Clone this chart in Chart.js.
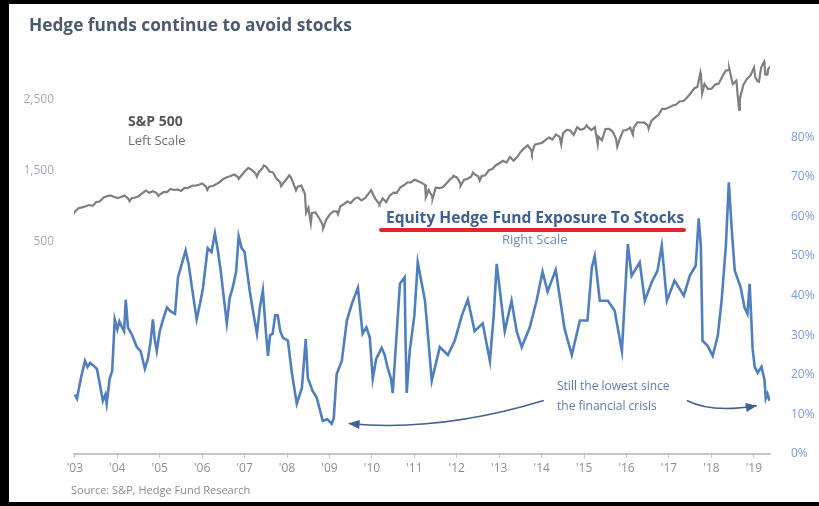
<!DOCTYPE html>
<html>
<head>
<meta charset="utf-8">
<script src="https://cdn.jsdelivr.net/npm/chart.js@4.4.0/dist/chart.umd.min.js"></script>
<style>
    html, body { margin: 0; padding: 0; background: #fff; }
    #wrap { position: relative; width: 819px; height: 506px; overflow: hidden; font-family: "Open Sans", sans-serif; }
    #chartHedge { position: absolute; left: 0; top: 0; }
    .txt { position: absolute; white-space: nowrap; line-height: 1; }
    #frame { position: absolute; left: 0; top: 0; right: 0; bottom: 0; border-left: 9px solid #000; border-top: 4px solid #000; border-bottom: 4px solid #000; pointer-events: none; }
</style>
</head>
<body>
<div id="wrap">
    <canvas id="chartHedge" width="819" height="506"></canvas>
    <div class="txt" style="left:29px;top:16px;font-size:17.3px;font-weight:700;color:#4b5a6e;">Hedge funds continue to avoid stocks</div>
    <div class="txt" style="left:128px;top:114px;font-size:14px;font-weight:700;color:#575757;">S&amp;P 500</div>
    <div class="txt" style="left:128px;top:134px;font-size:13px;color:#6e6e6e;">Left Scale</div>
    <div class="txt" style="left:386px;top:210px;font-size:15.6px;font-weight:700;color:#3d5f93;">Equity Hedge Fund Exposure To Stocks</div>
    <div style="position:absolute;left:379px;top:228px;width:307px;height:4px;border-radius:2px;background:#e8222b;"></div>
    <div class="txt" style="left:502px;top:233px;font-size:13px;color:#6a8bc6;">Right Scale</div>
    <div class="txt" style="left:557px;top:380px;font-size:12px;color:#5a7bb6;">Still the lowest since</div>
    <div class="txt" style="left:557px;top:400px;font-size:12px;color:#5a7bb6;">the financial crisis</div>
    <div class="txt" style="left:71px;top:484px;font-size:11px;color:#8c8c8c;">Source: S&amp;P, Hedge Fund Research</div>
    <div id="frame"></div>
</div>
<script>
// S&P 500 month-end closes, Jan 2003 .. Sep 2019
const spxMonthly = [
    855.7, 841.2, 848.2, 916.9, 963.6, 974.5, 990.3, 1008.0, 996.0, 1050.7, 1058.2, 1111.9,
    1131.1, 1144.9, 1126.2, 1107.3, 1120.7, 1140.8, 1101.7, 1104.2, 1114.6, 1130.2, 1173.8, 1211.9,
    1181.3, 1203.6, 1180.6, 1156.9, 1191.5, 1191.3, 1234.2, 1220.3, 1228.8, 1207.0, 1249.5, 1248.3,
    1280.1, 1280.7, 1294.9, 1310.6, 1270.1, 1270.2, 1276.7, 1303.8, 1335.9, 1377.9, 1400.6, 1418.3,
    1438.2, 1406.8, 1420.9, 1482.4, 1530.6, 1503.4, 1455.3, 1474.0, 1526.8, 1549.4, 1481.1, 1468.4,
    1378.6, 1330.6, 1322.7, 1385.6, 1400.4, 1280.0, 1267.4, 1282.8, 1166.4, 968.8, 896.2, 903.3,
    825.9, 735.1, 797.9, 872.8, 919.1, 919.3, 987.5, 1020.6, 1057.1, 1036.2, 1095.6, 1115.1,
    1073.9, 1104.5, 1169.4, 1186.7, 1089.4, 1030.7, 1101.6, 1049.3, 1141.2, 1183.3, 1180.6, 1257.6,
    1286.1, 1327.2, 1325.8, 1363.6, 1345.2, 1320.6, 1292.3, 1218.9, 1131.4, 1253.3, 1247.0, 1257.6,
    1312.4, 1365.7, 1408.5, 1397.9, 1310.3, 1362.2, 1379.3, 1406.6, 1440.7, 1412.2, 1416.2, 1426.2,
    1498.1, 1514.7, 1569.2, 1597.6, 1630.7, 1606.3, 1685.7, 1633.0, 1681.6, 1756.5, 1805.8, 1848.4,
    1782.6, 1859.5, 1872.3, 1884.0, 1923.6, 1960.2, 1930.7, 2003.4, 1972.3, 2018.1, 2067.6, 2058.9,
    1995.0, 2104.5, 2067.9, 2085.5, 2107.4, 2063.1, 2103.8, 1972.2, 1920.0, 2079.4, 2080.4, 2043.9,
    1940.2, 1932.2, 2059.7, 2065.3, 2097.0, 2098.9, 2173.6, 2171.0, 2168.3, 2126.2, 2198.8, 2238.8,
    2278.9, 2363.6, 2362.7, 2384.2, 2411.8, 2423.4, 2470.3, 2471.7, 2519.4, 2575.3, 2647.6, 2673.6,
    2823.8, 2713.8, 2640.9, 2648.1, 2705.3, 2718.4, 2816.3, 2901.5, 2914.0, 2711.7, 2760.2, 2506.9,
    2704.1, 2784.5, 2834.4, 2945.8, 2750.8, 2941.8, 2980.4, 2926.5, 2976.7
];
const spxStartYear = 2003;
// in the reference the S&P line sits about four months left of the year ticks
const spxTickLag = 0.33;

// intra-month highs and lows of the S&P 500 (decimal year, level)
const spxExtraDates = [2003.19, 2004.62, 2005.30, 2006.45, 2007.19, 2007.62, 2007.78, 2008.19, 2008.38,
    2008.54, 2008.78, 2008.89, 2009.18, 2009.53, 2010.31, 2010.51, 2011.60, 2011.76, 2012.25, 2012.42, 2012.71,
    2012.87, 2014.10, 2014.79, 2015.39, 2015.65, 2016.11, 2016.48, 2016.85, 2018.07, 2018.11, 2018.75, 2018.98,
    2019.36, 2019.45, 2019.57, 2019.60, 2019.65];
const spxExtraValues = [800, 1063, 1137, 1223, 1377, 1406, 1565, 1273, 1426,
    1215, 899, 752, 677, 879, 1217, 1022, 1119, 1099, 1419, 1278, 1465,
    1353, 1741, 1862, 2131, 1867, 1829, 2001, 2085, 2873, 2581, 2931, 2351,
    2812, 2744, 3026, 2845, 2847];

// Equity hedge fund exposure to stocks, % (decimal year, value)
const hfDates = [
    2003.00, 2003.05, 2003.15, 2003.24, 2003.30, 2003.36, 2003.42, 2003.52, 2003.60, 2003.66, 2003.72, 2003.75,
    2003.82, 2003.88, 2003.94, 2004.00, 2004.05, 2004.11, 2004.16, 2004.20, 2004.25, 2004.35, 2004.46, 2004.55,
    2004.65, 2004.72, 2004.78, 2004.84, 2004.88, 2004.93, 2005.00, 2005.07, 2005.17, 2005.26, 2005.36, 2005.43,
    2005.52, 2005.61, 2005.68, 2005.76, 2005.87, 2005.95, 2006.02, 2006.13, 2006.22, 2006.30, 2006.37, 2006.44,
    2006.49, 2006.58, 2006.65, 2006.72, 2006.80, 2006.86, 2006.93, 2007.00, 2007.06, 2007.12, 2007.20, 2007.29,
    2007.36, 2007.43, 2007.50, 2007.55, 2007.60, 2007.66, 2007.72, 2007.78, 2007.84, 2007.90, 2008.02, 2008.12,
    2008.23, 2008.30, 2008.35, 2008.44, 2008.49, 2008.60, 2008.70, 2008.84, 2008.95, 2009.05, 2009.10, 2009.17,
    2009.29, 2009.41, 2009.53, 2009.60, 2009.67, 2009.78, 2009.87, 2009.95, 2010.02, 2010.10, 2010.23, 2010.30,
    2010.37, 2010.45, 2010.49, 2010.55, 2010.66, 2010.77, 2010.79, 2010.82, 2010.89, 2011.00, 2011.08, 2011.25,
    2011.32, 2011.41, 2011.60, 2011.79, 2011.95, 2012.12, 2012.26, 2012.42, 2012.61, 2012.78, 2012.87, 2012.94,
    2013.13, 2013.29, 2013.41, 2013.53, 2013.72, 2013.88, 2014.02, 2014.14, 2014.33, 2014.54, 2014.71, 2014.90,
    2015.08, 2015.18, 2015.25, 2015.37, 2015.56, 2015.72, 2015.89, 2016.03, 2016.12, 2016.31, 2016.43, 2016.59,
    2016.73, 2016.83, 2016.95, 2017.13, 2017.35, 2017.49, 2017.63, 2017.70, 2017.75, 2017.79, 2017.91, 2018.03,
    2018.15, 2018.24, 2018.34, 2018.41, 2018.48, 2018.55, 2018.69, 2018.78, 2018.85, 2018.90, 2018.95, 2018.97,
    2019.02, 2019.09, 2019.18, 2019.25, 2019.28, 2019.32, 2019.37
];
const hfValues = [
    15.0, 14.0, 19.5, 23.5, 22.0, 23.0, 22.5, 21.5, 17.0, 13.4, 15.0, 12.7,
    19.0, 21.0, 34.0, 31.5, 33.5, 32.0, 31.0, 39.0, 32.0, 30.0, 27.0, 26.0,
    21.5, 24.0, 28.0, 34.0, 29.0, 26.0, 31.0, 33.7, 37.0, 36.0, 35.4, 44.6,
    48.0, 51.4, 48.0, 42.0, 34.0, 38.0, 42.0, 52.0, 51.0, 55.7, 51.4, 46.0,
    41.3, 33.0, 39.5, 42.0, 46.0, 55.0, 52.0, 51.0, 46.0, 41.3, 36.0, 30.4,
    37.0, 41.3, 31.0, 24.8, 30.0, 30.4, 35.0, 35.0, 31.0, 29.4, 28.6, 20.0,
    12.7, 15.0, 16.7, 29.0, 19.2, 16.0, 14.2, 8.4, 8.8, 7.6, 9.0, 20.2,
    23.5, 33.7, 38.0, 40.0, 42.0, 30.4, 32.0, 29.4, 19.0, 24.0, 26.8, 25.0,
    21.8, 19.0, 15.4, 25.0, 43.0, 44.6, 30.0, 15.4, 26.0, 35.0, 48.4, 38.7,
    30.0, 18.5, 27.0, 25.0, 28.6, 35.0, 39.0, 31.0, 33.0, 23.5, 35.0, 48.0,
    31.0, 38.7, 31.0, 27.0, 32.0, 38.7, 46.0, 41.0, 46.5, 31.6, 25.0, 33.7,
    33.7, 47.0, 50.0, 38.7, 38.7, 36.2, 26.0, 53.0, 45.0, 48.4, 38.7, 43.3,
    46.3, 52.6, 38.7, 43.8, 40.0, 45.0, 47.6, 59.5, 52.6, 28.6, 27.3, 24.8,
    29.9, 38.7, 52.6, 68.6, 56.5, 46.3, 42.0, 37.0, 35.4, 43.0, 31.6, 26.6,
    22.0, 20.5, 22.0, 18.7, 14.0, 15.2, 13.4
];

const yearTicks = [2003, 2004, 2005, 2006, 2007, 2008, 2009, 2010, 2011, 2012, 2013, 2014, 2015, 2016, 2017, 2018, 2019];
const leftTicks = [500, 1500, 2500];
const rightTicks = [0, 10, 20, 30, 40, 50, 60, 70, 80];

// build point lists
let spxPoints = spxMonthly.map((v, i) => ({x: spxStartYear + (i + 1) / 12 - spxTickLag, y: v}));
spxExtraDates.forEach((d, i) => spxPoints.push({x: d - spxTickLag, y: spxExtraValues[i]}));
spxPoints.sort((a, b) => a.x - b.x);
const hfPoints = hfDates.map((d, i) => ({x: d, y: hfValues[i]}));

// curved annotation arrows, anchored to the scales
function drawArrow(ctx, sx, sy, cx, cy, ex, ey) {
    ctx.beginPath();
    ctx.moveTo(sx, sy);
    ctx.quadraticCurveTo(cx, cy, ex, ey);
    ctx.stroke();
    const ang = Math.atan2(ey - cy, ex - cx);
    ctx.beginPath();
    ctx.moveTo(ex, ey);
    ctx.lineTo(ex - 11 * Math.cos(ang) + 4.5 * Math.sin(ang), ey - 11 * Math.sin(ang) - 4.5 * Math.cos(ang));
    ctx.lineTo(ex - 11 * Math.cos(ang) - 4.5 * Math.sin(ang), ey - 11 * Math.sin(ang) + 4.5 * Math.cos(ang));
    ctx.closePath();
    ctx.fill();
}

const arrowPlugin = {
    id: 'arrows',
    afterDatasetsDraw(chart) {
        const ctx = chart.ctx;
        const x = chart.scales.x, y = chart.scales.yR;
        ctx.save();
        ctx.strokeStyle = '#3f6196';
        ctx.fillStyle = '#3f6196';
        ctx.lineWidth = 1.5;
        drawArrow(ctx,
            x.getPixelForValue(2014.05), y.getPixelForValue(13.5),
            x.getPixelForValue(2011.6), y.getPixelForValue(5.5),
            x.getPixelForValue(2009.45), y.getPixelForValue(7.7));
        drawArrow(ctx,
            x.getPixelForValue(2017.42), y.getPixelForValue(13.5),
            x.getPixelForValue(2018.0), y.getPixelForValue(10.3),
            x.getPixelForValue(2019.07), y.getPixelForValue(12.2));
        ctx.restore();
    }
};

const configHedge = {
    type: 'line',
    data: {
        datasets: [
            {
                data: spxPoints,
                yAxisID: 'yL',
                borderColor: '#7f7f7f',
                borderWidth: 2.2,
                pointRadius: 0,
                fill: false,
            },
            {
                data: hfPoints,
                yAxisID: 'yR',
                borderColor: '#4f7fbf',
                borderWidth: 2.6,
                pointRadius: 0,
                fill: false,
            },
        ]
    },
    options: {
        responsive: false,
        animation: false,
        layout: {
            padding: {top: 58, bottom: 30, left: 0, right: 0}
        },
        scales: {
            x: {
                type: 'linear',
                min: 2002.98,
                max: 2019.38,
                afterBuildTicks: (s) => { s.ticks = yearTicks.map(v => ({value: v})); },
                afterFit: (s) => { s.height = 22; },
                grid: {
                    display: true,
                    drawOnChartArea: false,
                    drawTicks: true,
                    tickLength: 4,
                    color: '#c4c4c4'
                },
                border: {display: true, color: '#c4c4c4', width: 2},
                ticks: {
                    padding: 3,
                    maxRotation: 0,
                    autoSkip: false,
                    color: '#909090',
                    font: {family: 'Open Sans', size: 12},
                    callback: (v) => "'" + String(v).slice(2)
                }
            },
            yL: {
                type: 'linear',
                position: 'left',
                min: -2500,
                max: 3080,
                afterBuildTicks: (s) => { s.ticks = leftTicks.map(v => ({value: v})); },
                afterFit: (s) => { s.width = 74; },
                grid: {display: false},
                border: {display: false},
                ticks: {
                    padding: 12,
                    color: '#a3abb9',
                    font: {family: 'Open Sans', size: 12},
                    callback: (v) => v.toLocaleString('en-US')
                }
            },
            yR: {
                type: 'linear',
                position: 'right',
                min: 0,
                max: 100,
                afterBuildTicks: (s) => { s.ticks = rightTicks.map(v => ({value: v})); },
                afterFit: (s) => { s.width = 49; },
                grid: {display: false},
                border: {display: false},
                ticks: {
                    padding: 13,
                    color: '#7d9dd4',
                    font: {family: 'Open Sans', size: 12},
                    callback: (v) => v + '%'
                }
            }
        },
        plugins: {
            legend: {display: false},
            tooltip: {enabled: false},
        },
        elements: {
            line: {tension: 0}
        }
    },
    plugins: [arrowPlugin]
};

var chartHedge = new Chart(
    document.getElementById('chartHedge'),
    configHedge
)
</script>
</body>
</html>
